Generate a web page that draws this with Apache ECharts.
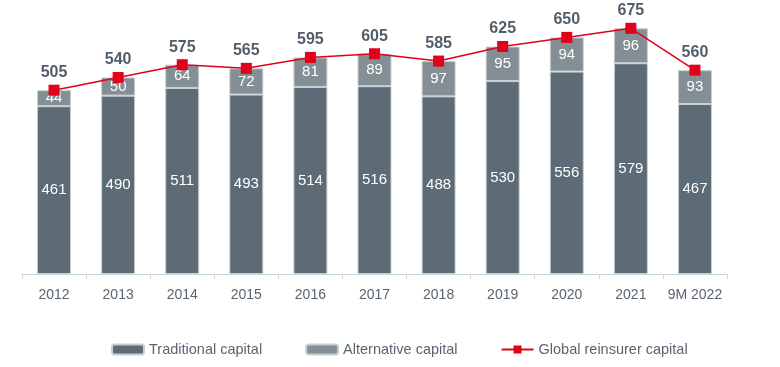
<!DOCTYPE html>
<html><head><meta charset="utf-8">
<script src="https://cdn.jsdelivr.net/npm/echarts@6/dist/echarts.min.js"></script>
<style>html,body{margin:0;padding:0;background:#fff}#c{width:780px;height:367px}</style>
</head><body><div id="c"></div>
<script>
const categories = ['2012','2013','2014','2015','2016','2017','2018','2019','2020','2021','9M 2022'];
const traditional = [461,490,511,493,514,516,488,530,556,579,467];
const alternative = [44,50,64,72,81,89,97,95,94,96,93];
const globalCapital = [505,540,575,565,595,605,585,625,650,675,560];

const chart = echarts.init(document.getElementById('c'));
const font = 'Liberation Sans, Arial, sans-serif';
chart.setOption({
  animation: false,
  textStyle: {fontFamily: font},
  grid: {left: 22, right: 53, top: 1, bottom: 93, containLabel: false},
  legend: {
    bottom: 5, left: 106, itemWidth: 32, itemHeight: 10, itemGap: 43,
    textStyle: {color: '#5a6570', fontSize: 14.5, fontFamily: font},
    data: [
      {name: 'Traditional capital'},
      {name: 'Alternative capital'},
      {name: 'Global reinsurer capital'}
    ]
  },
  xAxis: {
    type: 'category', data: categories,
    axisLine: {lineStyle: {color: '#c9d6da', width: 1}},
    axisTick: {show: true, length: 5, lineStyle: {color: '#c9d6da'}},
    axisLabel: {color: '#5a6570', fontSize: 14, margin: 14, interval: 0, fontFamily: font}
  },
  yAxis: {type: 'value', min: 0, max: 750, show: false, splitLine: {show: false}},
  series: [
    {
      name: 'Traditional capital', type: 'bar', stack: 'cap', data: traditional, barWidth: 34,
      itemStyle: {color: '#5c6b75', borderColor: '#c8d0d4', borderWidth: 1},
      label: {show: true, position: 'inside', color: '#fff', fontSize: 15, fontFamily: font}
    },
    {
      name: 'Alternative capital', type: 'bar', stack: 'cap', data: alternative, barWidth: 34,
      itemStyle: {color: '#848f95', borderColor: '#c8d0d4', borderWidth: 1},
      label: {show: true, position: 'inside', color: '#fff', fontSize: 15, fontFamily: font}
    },
    {
      name: 'Global reinsurer capital', type: 'line', data: globalCapital,
      symbol: 'rect', symbolSize: 11,
      lineStyle: {color: '#e2001a', width: 1.5},
      itemStyle: {color: '#e2001a'},
      label: {show: true, position: 'top', distance: 4, color: '#515e69', fontSize: 16, fontWeight: 'bold', fontFamily: font},
      z: 5
    }
  ]
});
</script></body></html>
